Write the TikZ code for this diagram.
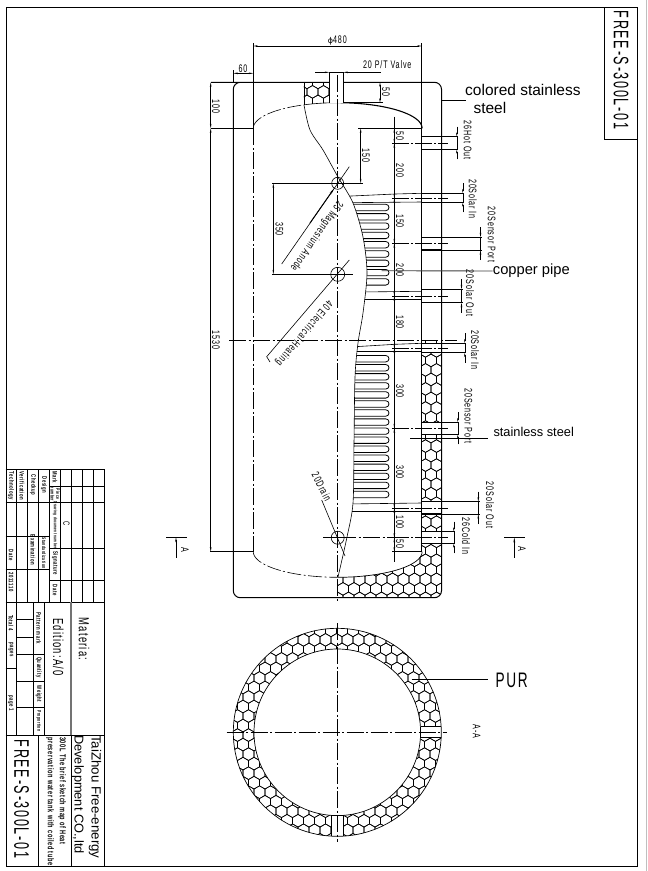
\documentclass[tikz,border=0pt]{standalone}
\usepackage{fontspec}
\usepackage{graphicx}
\setmainfont{Liberation Sans}
\newfontfamily\cad[FakeStretch=0.65,LetterSpace=8]{Liberation Sans}
\newfontfamily\cadn[FakeStretch=0.6,LetterSpace=8]{Liberation Sans}
\usetikzlibrary{arrows.meta,calc}
\tikzset{
  thin line/.style={line width=0.5pt,black},
  heavy/.style={line width=1pt,black},
  cen/.style={line width=0.6pt,dash pattern=on 17pt off 2.5pt on 2pt off 2.5pt},
  dimn/.style={line width=0.5pt,{Stealth[length=4.5pt,width=1.6pt]}-{Stealth[length=4.5pt,width=1.6pt]}},
  inarrow/.style={line width=0.5pt,-{Stealth[length=4.5pt,width=1.6pt]}},
  lab/.style={inner sep=0pt,font=\cad\fontsize{11}{11}\selectfont},
  dl/.style={lab,rotate=-90},
  call/.style={inner sep=0pt,font=\fontsize{15.5}{15.5}\selectfont},
  tiny tab/.style={inner sep=0pt,rotate=-90,font=\cad\fontsize{6.5}{6.5}\selectfont\bfseries},
  tiny small/.style={inner sep=0pt,rotate=-90,font=\cad\fontsize{5.2}{5.2}\selectfont\bfseries},
  big code/.style={inner sep=0pt,rotate=-90,font=\cadn\fontsize{21}{21}\selectfont},
  mid text/.style={inner sep=0pt,rotate=-90,font=\cad\fontsize{14.5}{14.5}\selectfont},
  desc/.style={inner sep=0pt,rotate=-90,anchor=west,font=\cad\fontsize{8.5}{8.5}\selectfont\bfseries},
}
\newcommand\hexfield[4]{%
  \foreach \j in {0,...,#4}{\foreach \i in {0,...,#3}{%
    \pgfmathsetmacro\hx{#1+\i*11+5.5*mod(\j,2)}%
    \pgfmathsetmacro\hy{#2+\j*9.52}%
    \draw[line width=0.6pt] (\hx,\hy) -- ++(5.5,3.17) -- ++(0,6.35) -- ++(-5.5,3.17) -- ++(-5.5,-3.17) -- ++(0,-6.35) -- cycle;
  }}}
\begin{document}
\begin{tikzpicture}[x=1pt,y=-1pt,line cap=butt]
\useasboundingbox (0,0) rectangle (648,871);
\fill[white] (0,0) rectangle (648,871);
\draw[line width=0.7pt,black!25] (646.8,0) -- (646.8,871);
% sheet frame
\draw[line width=0.8pt] (6,7.5) rectangle (637,866);
\draw[line width=0.8pt] (604.5,7.5) -- (604.5,139) -- (637,139);
\node[big code] (titletop) at (621,70) {FREE-S-300L-01};
% title block lines
\draw[line width=0.8pt] (5.7,469.3) -- (104.5,469.3) -- (104.5,866);
\foreach \x in {16,27.3,38.3,49.7,60.7,71.7,82.7,93.7} \draw[line width=0.7pt] (\x,469.3) -- (\x,602.3);
\foreach \y in {502.3,602.3} \draw[line width=0.7pt] (5.7,\y) -- (104.5,\y);
\foreach \y in {536.3,569.3} \draw[line width=0.7pt] (5.7,\y) -- (49.7,\y);
\foreach \y in {486,548,580.7} \draw[line width=0.7pt] (49.7,\y) -- (104.5,\y);
\draw[line width=0.7pt] (16.5,602.3) -- (16.5,735) (33.3,602.3) -- (33.3,735) (44.3,602.3) -- (44.3,735);
\draw[line width=1.1pt,black!55] (71,602.3) -- (71,735);
\foreach \y in {619,637,654,681,707} \draw[line width=0.7pt] (16.5,\y) -- (33.3,\y);
\foreach \y in {654,681,707} \draw[line width=0.7pt] (33.3,\y) -- (44.3,\y);
\draw[line width=0.7pt] (5.7,668) -- (16.5,668);
\draw[line width=0.8pt] (5.7,735) -- (104.5,735);
\draw[line width=0.7pt] (38.3,735) -- (38.3,866) (71.7,735) -- (71.7,866);
% title block text
\node[tiny tab] (t1) at (11,486) {Technology};
\node[tiny tab] (t2) at (22,486) {Verification};
\node[tiny tab] (t3) at (33,485) {Checkup};
\node[tiny tab] (t4) at (44,485) {Design};
\node[tiny tab] (t5) at (55,477.5) {Mark};
\node[tiny small] (t6) at (58,494) {Piece};
\node[tiny small] (t7) at (52.5,494) {number};
\node[tiny small,font=\cad\fontsize{4.7}{4.7}\selectfont\bfseries] (t8) at (55,525) {Drawing document number};
\node[tiny tab] (t9) at (55,563) {Signature};
\node[tiny tab] (t10) at (55,590) {Date};
\node[lab,rotate=-90,font=\cad\fontsize{9}{9}\selectfont] (t11) at (66.5,524) {C};
\node[tiny small] (t12) at (44,553) {Standardization};
\node[tiny tab] (t13) at (33,550) {Examination};
\node[tiny tab] (t14) at (11,555) {Date};
\node[tiny tab] (t15) at (11,582) {2011110};
\node[tiny tab] (t16) at (11,623) {Total 4};
\node[tiny tab] (t17) at (11,650) {pages};
\node[tiny tab] (t18) at (11,703) {page 1};
\node[tiny tab] (t19) at (38.7,628) {Pattern mark};
\node[tiny tab] (t20) at (38.7,667.5) {Quantity};
\node[tiny tab] (t21) at (38.7,694) {Weight};
\node[tiny small] (t22) at (38.7,721) {Proportion};
\node[mid text] (t23) at (84,639) {Materia:};
\node[mid text] (t24) at (58.3,647) {Edition:A/0};
\node[big code] (t25) at (21.7,799) {FREE-S-300L-01};
\node[desc] (t26) at (62,737) {300L The brief sketch map of Heat};
\node[desc] (t27) at (50,737) {preservation water tank with coiled tube};
\node[inner sep=0pt,rotate=-90,anchor=west,font=\fontsize{13.3}{13.3}\selectfont] (t28) at (95,735) {TaiZhou Free-energy};
\node[inner sep=0pt,rotate=-90,anchor=west,font=\fontsize{12.8}{12.8}\selectfont] (t29) at (78,735) {Development CO.,ltd};
% insulation top
\begin{scope}
\clip (304,82.3) -- (329.3,82.3) -- (329.3,103) -- plot[domain=264.3:246.4,samples=8] ({337.7+84.4*cos(\x)},{128.3+25.6*sin(\x)}) -- cycle;
\hexfield{296}{76}{4}{3}
\end{scope}
\draw[line width=0.6pt] (304,82.3) -- (304,105);
% insulation bottom + wall
\begin{scope}
\clip (337.7,597.7) -- (337.7,577.3) -- plot[domain=90:0,samples=30] ({337.7+84.4*cos(\x)},{551.7+25.6*sin(\x)}) -- (421.7,340) -- (441.5,340) -- (441.5,590.7) arc[start angle=0,end angle=90,radius=7] -- cycle;
\hexfield{332}{335}{10}{28}
\end{scope}
\fill[white] (421.7,343.3) rectangle (441.5,352.7) (421.7,422.3) rectangle (441.5,434.3) (421.7,501.7) rectangle (441.5,514) (421.7,531.7) rectangle (441.5,543.3);
% jacket
\draw[heavy] (211,82.3) -- (434.5,82.3) arc[start angle=-90,end angle=0,radius=7] -- (441.5,590.7) arc[start angle=0,end angle=90,radius=7] -- (240.3,597.7) arc[start angle=90,end angle=180,radius=7] -- (233.3,89.3) arc[start angle=180,end angle=270,radius=7];
% tank
\draw[cen,line width=0.7pt] (253.3,128.3) -- (253.3,551.7);
\draw[cen,line width=0.6pt,dash pattern=on 14pt off 2.5pt on 2pt off 2.5pt] plot[domain=180:246.4,samples=30] ({337.7+84.4*cos(\x)},{128.3+25.6*sin(\x)});
\draw[line width=0.6pt] plot[domain=246.4:272,samples=10] ({337.7+84.4*cos(\x)},{128.3+25.6*sin(\x)});
\draw[line width=1.1pt] plot[domain=272:360,samples=30] ({337.7+84.4*cos(\x)},{128.3+25.6*sin(\x)});
\draw[cen,line width=0.6pt,dash pattern=on 14pt off 2.5pt on 2pt off 2.5pt] plot[domain=180:90,samples=30] ({337.7+84.4*cos(\x)},{551.7+25.6*sin(\x)});
\draw[line width=0.7pt] plot[domain=90:0,samples=30] ({337.7+84.4*cos(\x)},{551.7+25.6*sin(\x)});
\draw[heavy] (421.7,128.3) -- (421.7,551.7);
% break curve
\draw[line width=0.6pt] plot[smooth] coordinates {(304,105) (310,130) (323,150) (338,177) (353,203) (363,237) (367,273) (363,313) (358,343) (355,377) (354,443) (353,503) (347,537) (338,577)};
% coils and pipes
\begin{scope}
\clip plot[smooth] coordinates {(304,105) (310,130) (323,150) (338,177) (353,203) (363,237) (367,273) (363,313) (358,343) (355,377) (354,443) (353,503) (347,537) (338,577)} -- (421.7,577) -- (421.7,100) -- cycle;
\foreach \k in {0,...,8}{
  \pgfmathsetmacro\cy{204.3+\k*9.3}
  \draw[line width=0.8pt] (340,\cy) -- (385.8,\cy) arc[start angle=-90,end angle=90,radius=3.2] -- (340,\cy+6.4);
}
\foreach \k in {0,...,15}{
  \pgfmathsetmacro\cy{355.5+\k*9.05}
  \draw[line width=0.8pt] (340,\cy) -- (385.8,\cy) arc[start angle=-90,end angle=90,radius=3.2] -- (340,\cy+6.4);
}
\draw[line width=0.6pt] (345,196.3) -- (395,194) -- (421.7,193.3);
\draw[line width=0.6pt] (345,202.7) -- (421.7,202);
\draw[line width=0.6pt] (360,292) -- (421.7,291.3);
\draw[line width=0.6pt] (360,299.5) -- (421.7,299.5);
\draw[line width=0.6pt] (350,347) -- (395,344.3) -- (421.7,343.3);
\draw[line width=0.6pt] (350,351.5) -- (421.7,351.5);
\draw[line width=0.6pt] (345,504) -- (421.7,503);
\draw[line width=0.6pt] (345,511) -- (421.7,511);
\end{scope}
% ports
\foreach \a/\b/\c/\e in {136.7/149.3/143.3/458,193.3/202.3/198.3/464,237.3/250/243.3/481.7,289.3/302.7/296/462.7,343.3/352.7/348.3/466,422.3/434.3/428.3/459,501.7/514/508.3/479.5,531.7/543.3/537.7/455}{
  \draw[line width=1.1pt] (421.7,\a) -- (441.5,\a) (421.7,\b) -- (441.5,\b);
  \draw[line width=0.5pt] (441.5,\a) -- (\e,\a) (441.5,\b) -- (\e,\b);
  \draw[cen,dash pattern=on 17pt off 2pt on 2pt off 2pt] (392.3,\c) -- (448,\c);
  \draw[inarrow] (\e-1.2,\a-10) -- (\e-1.2,\a);
  \draw[inarrow] (\e-1.2,\b+10) -- (\e-1.2,\b);
  \draw[line width=0.5pt] (\e-1.2,\a) -- (\e-1.2,\b);
}
% section line + centre
\draw[cen] (337.7,75) -- (337.7,601.7);
\draw[cen] (229,340.3) -- (456.7,340.3);
\draw[cen] (339,537.7) -- (392,537.7);
\draw[line width=0.5pt] (323,537.7) -- (344,537.7);
% valve
\fill[white] (329.3,72.3) rectangle (343.3,102.7);
\draw[heavy,line width=0.8pt] (329.3,102.7) -- (329.3,72.3) -- (343.3,72.3) -- (343.3,102.7);
\draw[cen] (337.7,75) -- (337.7,110);
\draw[inarrow] (315,72.3) -- (329.3,72.3);
\draw[inarrow] (380.7,72.3) -- (343.3,72.3);
\node[lab] (pt) at (387.3,65) {20 P/T Valve};
% top dims
\draw[thin line] (253.3,43) -- (253.3,128.3) (421.7,43) -- (421.7,128.3) (233.3,70) -- (233.3,82.3);
\draw[dimn] (253.3,46) -- (421.7,46);
\node[lab] (d480) at (337.3,40.7) {\fontspec{DejaVu Sans}\fontsize{8}{8}\selectfont ϕ\cad\fontsize{11}{11}\selectfont 480};
\draw[dimn] (233.3,73.3) -- (253.3,73.3);
\node[lab] (d60) at (243,69) {60};
\draw[thin line] (343.3,102.7) -- (383,102.7);
\draw[dimn] (380,82.3) -- (380,102.7);
\node[dl] (d50a) at (386,92) {50};
% left dims
\draw[thin line] (211,128.3) -- (253.3,128.3) (210,551.7) -- (253.3,551.7);
\draw[dimn] (210.7,82.3) -- (210.7,128.3);
\draw[dimn] (210.7,128.3) -- (210.7,551.7);
\node[dl] (d100) at (216,106.7) {100};
\node[dl] (d1530) at (216,340) {1530};
% main vertical dim
\draw[thin line] (358,128.3) -- (421.7,128.3);
\draw[thin line] (392,551.7) -- (421.7,551.7);
\draw[line width=0.5pt] (394.3,116.7) -- (394.3,561.7);
\foreach \p/\q in {128.3/143.3,143.3/198.3,198.3/243.3,243.3/296,296/348.3,348.3/428.3,428.3/508.3,508.3/537.7,537.7/551.7}
  \draw[dimn] (394.3,\p) -- (394.3,\q);
\node[dl] (m1) at (400,135.7) {50};
\node[dl] (m2) at (400,170.7) {200};
\node[dl] (m3) at (400,221) {150};
\node[dl] (m4) at (400,270) {200};
\node[dl] (m5) at (400,322) {180};
\node[dl] (m6) at (400,391) {300};
\node[dl] (m7) at (400,472) {300};
\node[dl] (m8) at (400,522) {100};
\node[dl] (m9) at (400,544.3) {50};
% flanges
\coordinate (c1) at (337.7,183.3);
\coordinate (c2) at (337.7,274.3);
\coordinate (c3) at (337.7,537.7);
\draw[line width=0.6pt] (c1) circle[radius=6];
\draw[line width=0.6pt] (c2) circle[radius=7];
\draw[line width=0.6pt] (c3) circle[radius=6.5];
\draw[thin line] (272.3,183.3) -- (362.7,183.3);
\draw[thin line] (272.3,274.3) -- (352.7,274.3);
\draw[dimn] (273.3,183.3) -- (273.3,274.3);
\node[dl] (d350) at (279.5,229) {350};
\draw[dimn] (360.7,128.3) -- (360.7,183.3);
\node[dl] (d150) at (366,155.7) {150};
% leaders
\coordinate (a1) at (349.3,166.7);
\coordinate (a2) at (281.7,264);
\draw[line width=0.6pt] (a1) -- (a2);
\draw[line width=0.9pt,-{Stealth[length=6pt,width=2pt]}] (310,223) -- ($(c1)+(-3.5,5)$);
\node[lab,rotate=-125] (mg) at (316.5,236) {25 Magnesium Anode};
\coordinate (b1) at (349.3,260);
\coordinate (b2) at (266.7,356.7);
\draw[line width=0.6pt] (b1) -- (b2) -- (270,362);
\node[lab,rotate=-130] (el) at (304,333) {40 Electrical Heating};
\coordinate (e1) at (321.7,500);
\coordinate (e2) at (345,556);
\draw[line width=0.6pt] (e1) -- (e2);
\node[lab,rotate=-63] (dr) at (321.7,486.7) {20Drain};
% port labels
\node[dl] (p1) at (467.7,140) {26Hot Out};
\node[dl] (p2) at (472.7,199) {20Solar In};
\node[dl] (p3) at (491.7,234.5) {20Sensor Port};
\node[dl] (p4) at (470,293) {20Solar Out};
\node[dl] (p5) at (475,350) {20Solar In};
\node[dl] (p6) at (468.3,416) {20Sensor Port};
\node[dl] (p7) at (490,505) {20Solar Out};
\node[dl] (p8) at (466,536) {26Cold In};
% callouts
\node[call,anchor=west] (cs) at (465,90) {colored stainless};
\node[call,anchor=west] (cs2) at (473.3,108) {steel};
\coordinate (csl) at (441.5,100);
\draw[line width=0.7pt] (csl) -- (465.7,100);
\node[call,anchor=west,font=\fontsize{14.7}{14.7}\selectfont] (cp) at (492.7,271) {copper pipe};
\coordinate (cpl) at (381.7,270.7);
\draw[line width=0.9pt,black!75] (cpl) -- (cp.west);
\node[call,anchor=west,font=\fontsize{12.8}{12.8}\selectfont] (ss) at (493.3,432) {stainless steel};
\coordinate (ssl) at (410,438.7);
\draw[line width=0.7pt] (ssl) -- (487.7,438.7);
% A markers
\draw[line width=0.8pt] (166,537.3) -- (186.7,537.3);
\draw[inarrow,{Stealth[length=5pt,width=1.8pt]}-] (176,537.3) -- (176,558);
\node[lab,rotate=-90] (al) at (185,550) {A};
\draw[line width=0.8pt] (504,537.5) -- (525,537.5);
\draw[inarrow,{Stealth[length=5pt,width=1.8pt]}-] (514.3,537.5) -- (514.3,558);
\node[lab,rotate=-90] (ar) at (522,549.3) {A};
% section A-A
\coordinate (sc) at (337.3,732.3);
\begin{scope}
\clip (sc) circle[radius=104];
\hexfield{232}{624}{19}{23}
\end{scope}
\fill[white] (sc) circle[radius=83.3];
\fill[white] (421,726) rectangle (442,737.3) (331.7,815) rectangle (343.3,837);
\draw[line width=0.7pt] (sc) circle[radius=104] (sc) circle[radius=83.3];
\draw[line width=0.7pt] (420.5,726) -- (441,726) (420.5,737.3) -- (441,737.3);
\draw[line width=0.7pt] (331.7,815) -- (331.7,835.5) (343.3,815) -- (343.3,835.5);
\draw[cen] (226.7,732.3) -- (446.7,732.3);
\draw[cen] (337.3,623) -- (337.3,841.7);
\coordinate (pl) at (411.7,679);
\node[inner sep=0pt,font=\cad\fontsize{21}{21}\selectfont] (pur) at (511.7,680) {PUR};
\draw[line width=0.7pt] (pl) -- (487.7,679);
\node[dl] (aa) at (476.7,731.7) {A-A};
\end{tikzpicture}
\end{document}
